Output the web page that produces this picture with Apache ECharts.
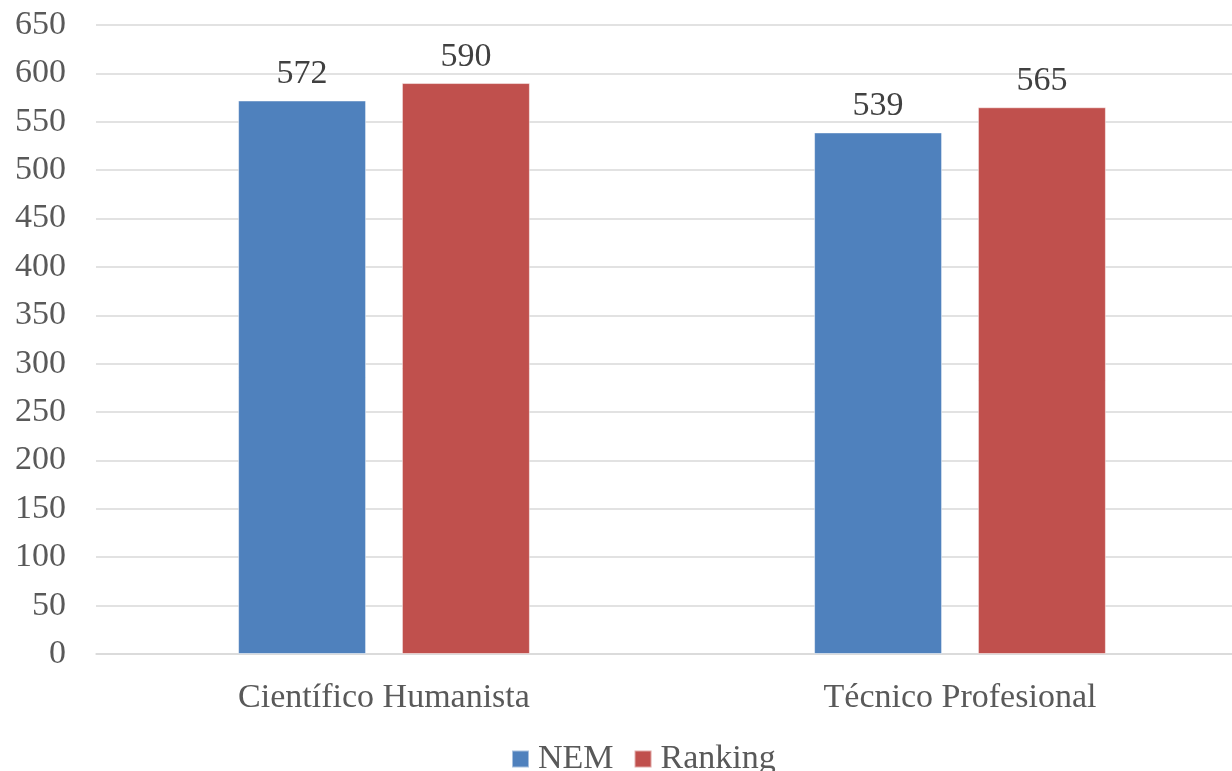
<!DOCTYPE html>
<html>
<head>
<meta charset="utf-8">
<script src="https://cdn.jsdelivr.net/npm/echarts@6/dist/echarts.min.js"></script>
<style>
  html, body { margin: 0; padding: 0; background: #fff; }
  #chart { width: 1232px; height: 771px; }
</style>
</head>
<body>
<div id="chart"></div>
<script>
// datos
const categories = ['Científico Humanista', 'Técnico Profesional'];
const nemValues = [572, 539];
const rankingValues = [590, 565];
const seriesNames = ['NEM', 'Ranking'];

const fontFamily = '"Liberation Serif", serif';
const textColor = '#595959';

const chart = echarts.init(document.getElementById('chart'));

const option = {
  animation: false,
  textStyle: { fontFamily: fontFamily },
  grid: {
    left: 96,
    width: 1152,     // la línea se corta en el borde como en la imagen
    top: 25,
    bottom: 117,
    outerBoundsMode: 'none'
  },
  legend: {
    data: seriesNames,
    top: 742,
    left: 511,
    padding: 0,
    itemWidth: 17,
    itemHeight: 17,
    itemGap: 20,
    icon: 'rect',
    selectedMode: false,
    textStyle: { fontSize: 34, color: textColor, fontFamily: fontFamily, padding: [0, 0, 0, 4] }
  },
  xAxis: {
    type: 'category',
    data: categories,
    axisLine: { lineStyle: { color: '#d9d9d9', width: 1.5 } },
    axisTick: { show: false },
    axisLabel: { fontSize: 34, color: textColor, margin: 27, fontFamily: fontFamily }
  },
  yAxis: {
    type: 'value',
    min: 0,
    max: 650,
    interval: 50,
    axisLine: { show: false },
    axisTick: { show: false },
    splitLine: { lineStyle: { color: '#d9d9d9', width: 1.5 } },
    axisLabel: { fontSize: 34, color: textColor, margin: 30, fontFamily: fontFamily }
  },
  series: [
    {
      name: seriesNames[0],
      type: 'bar',
      data: nemValues,
      barWidth: 128,
      barGap: '28%',
      itemStyle: { color: '#4f81bd', borderColor: 'rgba(255,255,255,0.5)', borderWidth: 1 },
      label: { show: true, position: 'top', distance: 9, fontSize: 34, color: '#404040', fontFamily: fontFamily }
    },
    {
      name: seriesNames[1],
      type: 'bar',
      data: rankingValues,
      barWidth: 128,
      barGap: '28%',
      itemStyle: { color: '#c0504d', borderColor: 'rgba(255,255,255,0.5)', borderWidth: 1 },
      label: { show: true, position: 'top', distance: 9, fontSize: 34, color: '#404040', fontFamily: fontFamily }
    }
  ]
};

chart.setOption(option);
</script>
</body>
</html>
